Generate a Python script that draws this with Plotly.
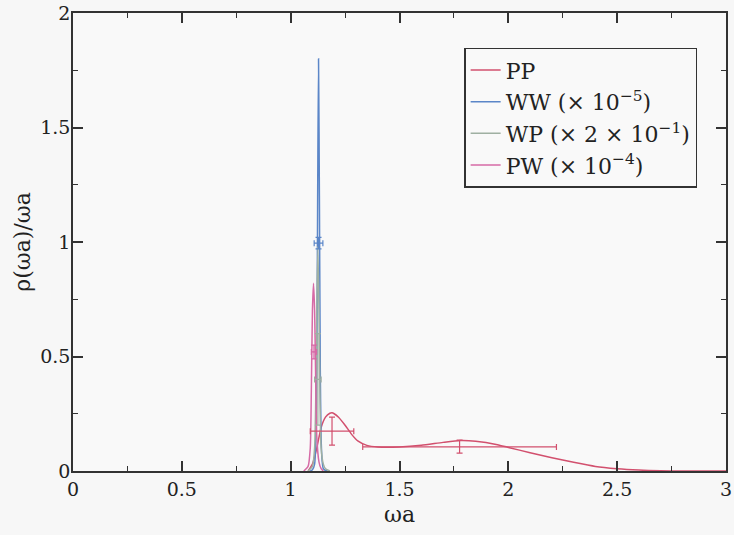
import plotly.graph_objects as go

# ---- data ----
pp_x = [1.08, 1.10, 1.12, 1.14, 1.16, 1.18, 1.19, 1.20, 1.22, 1.25, 1.28, 1.31, 1.35, 1.40,
        1.50, 1.60, 1.70, 1.78, 1.85, 1.95, 2.00, 2.10, 2.20, 2.30, 2.40, 2.50, 2.60, 2.70,
        2.80, 2.90, 3.00]
pp_y = [0.0, 0.03, 0.10, 0.19, 0.235, 0.252, 0.254, 0.25, 0.235, 0.20, 0.16, 0.13, 0.112,
        0.105, 0.105, 0.112, 0.125, 0.133, 0.13, 0.115, 0.103, 0.08, 0.058, 0.038, 0.02,
        0.01, 0.004, 0.001, 0.0, 0.0, 0.0]

ww_x = [1.09, 1.10, 1.11, 1.115, 1.12, 1.124, 1.128, 1.132, 1.136, 1.14, 1.145, 1.15, 1.16, 1.17]
ww_y = [0.0, 0.005, 0.03, 0.12, 0.45, 1.20, 1.80, 1.20, 0.45, 0.14, 0.04, 0.01, 0.002, 0.0]

wp_x = [1.08, 1.10, 1.11, 1.115, 1.12, 1.125, 1.13, 1.135, 1.14, 1.15, 1.16, 1.18]
wp_y = [0.0, 0.02, 0.10, 0.30, 0.70, 0.98, 0.70, 0.30, 0.10, 0.03, 0.01, 0.0]

pw_x = [1.06, 1.08, 1.09, 1.095, 1.10, 1.105, 1.11, 1.115, 1.12, 1.13, 1.14, 1.15]
pw_y = [0.0, 0.02, 0.10, 0.35, 0.70, 0.82, 0.70, 0.40, 0.15, 0.04, 0.01, 0.0]

# error-bar points
pp_ex = [1.19, 1.776]
pp_ey = [0.174, 0.105]
pp_dx = [0.10, 0.445]
pp_dy_plus = [0.061, 0.030]
pp_dy_minus = [0.061, 0.027]

ww_ex = [1.128]
ww_ey = [0.995]
ww_dx = [0.02]
ww_dy = [0.025]

wp_ex = [1.125]
wp_ey = [0.40]
wp_dx = [0.015]
wp_dy = [0.2]

pw_ex = [1.107]
pw_ey = [0.52]
pw_dx = [0.012]
pw_dy = [0.03]

x_ticks = [0, 0.5, 1, 1.5, 2, 2.5, 3]
x_labels = ["0", "0.5", "1", "1.5", "2", "2.5", "3"]
y_ticks = [0, 0.5, 1, 1.5, 2]
y_labels = ["0", "0.5", "1", "1.5", "2"]

names = ["PP", "WW (× 10<sup>−5</sup>)", "WP (× 2 × 10<sup>−1</sup>)", "PW (× 10<sup>−4</sup>)"]
colors = ["#d2506e", "#5b86c8", "#9fb0a2", "#d66aa6"]

SERIF = "DejaVu Serif"

fig = go.Figure()
curves = [(pp_x, pp_y), (ww_x, ww_y), (wp_x, wp_y), (pw_x, pw_y)]
for (cx, cy), nm, col in zip(curves, names, colors):
    fig.add_trace(go.Scatter(x=cx, y=cy, mode="lines", name=nm,
                             line=dict(color=col, width=1.5, shape="spline", smoothing=0.6)))

def add_err(ex, ey, dx, dyp, dym, col):
    fig.add_trace(go.Scatter(
        x=ex, y=ey, mode="markers", showlegend=False,
        marker=dict(size=1, color=col),
        error_x=dict(type="data", array=dx, color=col, thickness=1.2, width=3),
        error_y=dict(type="data", array=dyp, arrayminus=dym, symmetric=False,
                     color=col, thickness=1.2, width=3)))

add_err(pp_ex, pp_ey, pp_dx, pp_dy_plus, pp_dy_minus, colors[0])
add_err(ww_ex, ww_ey, ww_dx, ww_dy, ww_dy, colors[1])
add_err(wp_ex, wp_ey, wp_dx, wp_dy, wp_dy, colors[2])
add_err(pw_ex, pw_ey, pw_dx, pw_dy, pw_dy, colors[3])

minor = dict(ticks="inside", ticklen=5, tickcolor="#333", tickwidth=1.2,
             dtick=0.25, showgrid=False)

xaxis = dict(
    range=[0, 3], tickmode="array", tickvals=x_ticks, ticktext=x_labels,
    showline=True, linecolor="#333", linewidth=1.5, mirror="ticks",
    ticks="inside", ticklen=10, tickcolor="#333", tickwidth=1.5,
    showgrid=False, zeroline=False, ticklabeloverflow="allow",
    tickfont=dict(family=SERIF, size=19, color="#222"),
    title=dict(text="ωa", font=dict(family=SERIF, size=22, color="#222"), standoff=8),
    minor=minor,
)
yaxis = dict(
    range=[0, 2], tickmode="array", tickvals=y_ticks, ticktext=y_labels,
    showline=True, linecolor="#333", linewidth=1.5, mirror="ticks",
    ticks="inside", ticklen=10, tickcolor="#333", tickwidth=1.5,
    showgrid=False, zeroline=False, ticklabeloverflow="allow",
    ticklabelstandoff=-3,
    tickfont=dict(family=SERIF, size=19, color="#222"),
    title=dict(text="ρ(ωa)/ωa", font=dict(family=SERIF, size=22, color="#222"), standoff=4),
    minor=minor,
)

fig.update_layout(
    width=734, height=535,
    font=dict(family=SERIF, size=19, color="#222"),
    margin=dict(l=73, r=2, t=12, b=64),
    paper_bgcolor="#f7f7f7", plot_bgcolor="#f9f9f9",
    xaxis=xaxis, yaxis=yaxis,
    showlegend=True,
    legend=dict(x=0.599, y=0.924, xanchor="left", yanchor="top",
                bgcolor="rgba(249,249,249,1)", bordercolor="#333", borderwidth=1.5,
                font=dict(family=SERIF, size=22, color="#222"),
                itemwidth=30),
)

fig.write_html("out.html")
